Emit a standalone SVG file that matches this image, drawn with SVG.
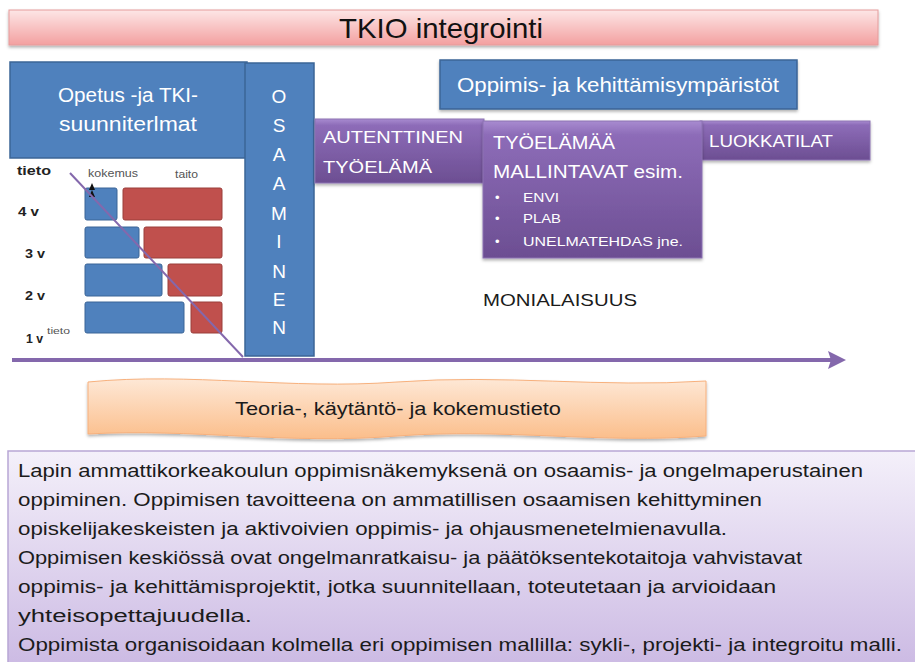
<svg xmlns="http://www.w3.org/2000/svg" width="915" height="662" viewBox="0 0 915 662">
<defs>
  <linearGradient id="gPink" x1="0" y1="0" x2="0" y2="1">
    <stop offset="0" stop-color="#FDE6E6"/>
    <stop offset="1" stop-color="#F3A0A0"/>
  </linearGradient>
  <linearGradient id="gPurple" x1="0" y1="0" x2="0" y2="1">
    <stop offset="0" stop-color="#A88BD0"/>
    <stop offset="0.1" stop-color="#8D6CB8"/>
    <stop offset="1" stop-color="#6C4E92"/>
  </linearGradient>
  <linearGradient id="gOrange" x1="0" y1="0" x2="0" y2="1">
    <stop offset="0" stop-color="#FEE8D6"/>
    <stop offset="1" stop-color="#FBBE8B"/>
  </linearGradient>
  <linearGradient id="gLav" x1="0" y1="0" x2="0" y2="1">
    <stop offset="0" stop-color="#F4F0FA"/>
    <stop offset="1" stop-color="#CBB9E3"/>
  </linearGradient>
  <filter id="sh" x="-5%" y="-10%" width="110%" height="140%">
    <feDropShadow dx="0" dy="2" stdDeviation="1.5" flood-color="#000" flood-opacity="0.3"/>
  </filter>
  <marker id="ah" markerUnits="userSpaceOnUse" markerWidth="20" markerHeight="20" refX="12" refY="9" orient="auto">
    <path d="M0,0 L18,9 L0,18 L3,9 Z" fill="#8468AC"/>
  </marker>
</defs>
<style>
  text { font-family: "Liberation Sans", Arial, sans-serif; }
  .blue { fill: #4F81BD; stroke: #3B6597; stroke-width: 1.5; }
  .wt { fill: #ffffff; }
  .pur { fill: url(#gPurple); stroke: #8B72B2; stroke-width: 1; }
  .bb { fill: #4F81BD; stroke: #3B6597; stroke-width: 1; }
  .rb { fill: #C0504D; stroke: #9A3E3B; stroke-width: 1; }
  .lbl { font-weight: bold; font-size: 12px; fill: #222; }
  .sm { font-size: 11px; fill: #555; }
  .body { font-size: 17.5px; fill: #1b1b1b; }
  .col { font-size: 19px; fill: #fff; text-anchor: middle; }
</style>

<g id="title">
  <rect x="9" y="10" width="869" height="35" fill="url(#gPink)" stroke="#E59C9C" stroke-width="1" filter="url(#sh)"/>
  <text x="441" y="38" font-size="28" fill="#111" text-anchor="middle" textLength="204" lengthAdjust="spacingAndGlyphs">TKIO integrointi</text>
</g>

<g id="chart">
  <text class="lbl" x="17" y="175" textLength="34" lengthAdjust="spacingAndGlyphs">tieto</text>
  <text class="sm" x="88" y="177" textLength="50" lengthAdjust="spacingAndGlyphs">kokemus</text>
  <text class="sm" x="175" y="178" textLength="23" lengthAdjust="spacingAndGlyphs">taito</text>
  <text class="lbl" x="18" y="216" textLength="21" lengthAdjust="spacingAndGlyphs">4 v</text>
  <text class="lbl" x="25" y="258" textLength="20" lengthAdjust="spacingAndGlyphs">3 v</text>
  <text class="lbl" x="25" y="300" textLength="20" lengthAdjust="spacingAndGlyphs">2 v</text>
  <text class="lbl" x="26" y="343" textLength="17" lengthAdjust="spacingAndGlyphs">1 v</text>
  <text x="47" y="334" font-size="9" fill="#555" textLength="23" lengthAdjust="spacingAndGlyphs">tieto</text>
  <rect class="bb" x="85" y="188" width="32" height="32" rx="2"/>
  <rect class="rb" x="123" y="188" width="99" height="32" rx="2"/>
  <rect class="bb" x="85" y="227" width="54" height="31" rx="2"/>
  <rect class="rb" x="144" y="227" width="78" height="31" rx="2"/>
  <rect class="bb" x="85" y="264" width="77" height="32" rx="2"/>
  <rect class="rb" x="168" y="264" width="54" height="32" rx="2"/>
  <rect class="bb" x="85" y="302" width="99" height="31" rx="2"/>
  <rect class="rb" x="191" y="302" width="31" height="31" rx="2"/>
  <path d="M92,183 L89,190 L95,190 Z M92,190 L89,197 L95,197 Z" fill="#111"/>
</g>

<g id="opetus">
  <rect class="blue" x="10" y="62" width="237" height="96"/>
  <text class="wt" x="128" y="102" font-size="20" text-anchor="middle" textLength="140" lengthAdjust="spacingAndGlyphs">Opetus -ja TKI-</text>
  <text class="wt" x="128" y="131" font-size="20" text-anchor="middle" textLength="138" lengthAdjust="spacingAndGlyphs">suunniterlmat</text>
</g>

<g id="osaaminen">
  <rect class="blue" x="245" y="63" width="69" height="293"/>
  <text class="col" x="279" y="103">O</text>
  <text class="col" x="279" y="132">S</text>
  <text class="col" x="279" y="161">A</text>
  <text class="col" x="279" y="190">A</text>
  <text class="col" x="279" y="220">M</text>
  <text class="col" x="279" y="248">I</text>
  <text class="col" x="279" y="278">N</text>
  <text class="col" x="279" y="306">E</text>
  <text class="col" x="279" y="334">N</text>
</g>

<g id="ymparistot">
  <rect class="blue" x="440" y="60" width="357" height="49" filter="url(#sh)"/>
  <text class="wt" x="618" y="92" font-size="20" text-anchor="middle" textLength="322" lengthAdjust="spacingAndGlyphs">Oppimis- ja kehittämisympäristöt</text>
</g>

<g id="autenttinen">
  <rect class="pur" x="315" y="119" width="169" height="64" filter="url(#sh)"/>
  <text class="wt" x="323" y="143" font-size="17" textLength="140" lengthAdjust="spacingAndGlyphs">AUTENTTINEN</text>
  <text class="wt" x="323" y="173" font-size="17" textLength="109" lengthAdjust="spacingAndGlyphs">TYÖELÄMÄ</text>
</g>

<g id="luokkatilat">
  <rect class="pur" x="700" y="121" width="170" height="39" filter="url(#sh)"/>
  <text class="wt" x="709" y="147" font-size="17" textLength="124" lengthAdjust="spacingAndGlyphs">LUOKKATILAT</text>
</g>

<g id="mallintavat">
  <rect class="pur" x="483" y="121" width="219" height="137" filter="url(#sh)"/>
  <text class="wt" x="493" y="149" font-size="18" textLength="122" lengthAdjust="spacingAndGlyphs">TYÖELÄMÄÄ</text>
  <text class="wt" x="493" y="178" font-size="18" textLength="190" lengthAdjust="spacingAndGlyphs">MALLINTAVAT esim.</text>
  <text class="wt" x="495" y="202" font-size="13">•</text>
  <text class="wt" x="523" y="202" font-size="13" textLength="36" lengthAdjust="spacingAndGlyphs">ENVI</text>
  <text class="wt" x="495" y="223" font-size="13">•</text>
  <text class="wt" x="523" y="223" font-size="13" textLength="38" lengthAdjust="spacingAndGlyphs">PLAB</text>
  <text class="wt" x="495" y="246" font-size="13">•</text>
  <text class="wt" x="523" y="246" font-size="13" textLength="160" lengthAdjust="spacingAndGlyphs">UNELMATEHDAS jne.</text>
</g>

<g id="monialaisuus">
  <text x="483" y="306" font-size="17" fill="#1b1b1b" textLength="154" lengthAdjust="spacingAndGlyphs">MONIALAISUUS</text>
</g>

<g id="connectors">
  <line x1="70" y1="173" x2="243" y2="357" stroke="#8468AC" stroke-width="2"/>
  <line x1="12" y1="360" x2="840" y2="360" stroke="#8468AC" stroke-width="4" marker-end="url(#ah)"/>
</g>

<g id="tieto">
  <path d="M88,382 C190,372 290,390 397,382 C505,374 600,388 706,381 L706,436 C600,444 505,428 397,436 C290,445 190,428 88,434 Z" fill="url(#gOrange)" stroke="#F7B07C" stroke-width="1" filter="url(#sh)"/>
  <text x="398" y="415" font-size="18" fill="#1b1b1b" text-anchor="middle" textLength="326" lengthAdjust="spacingAndGlyphs">Teoria-, käytäntö- ja kokemustieto</text>
</g>

<g id="kuvaus">
  <rect x="8" y="451" width="915" height="220" fill="url(#gLav)" stroke="#B8A6D5" stroke-width="1.5"/>
  <text class="body" x="18" y="477" textLength="845" lengthAdjust="spacingAndGlyphs">Lapin ammattikorkeakoulun oppimisnäkemyksenä on osaamis- ja ongelmaperustainen</text>
  <text class="body" x="18" y="506" textLength="744" lengthAdjust="spacingAndGlyphs">oppiminen. Oppimisen tavoitteena on ammatillisen osaamisen kehittyminen</text>
  <text class="body" x="18" y="535" textLength="709" lengthAdjust="spacingAndGlyphs">opiskelijakeskeisten ja aktivoivien oppimis- ja ohjausmenetelmienavulla.</text>
  <text class="body" x="18" y="564" textLength="784" lengthAdjust="spacingAndGlyphs">Oppimisen keskiössä ovat ongelmanratkaisu- ja päätöksentekotaitoja vahvistavat</text>
  <text class="body" x="18" y="593" textLength="758" lengthAdjust="spacingAndGlyphs">oppimis- ja kehittämisprojektit, jotka suunnitellaan, toteutetaan ja arvioidaan</text>
  <text class="body" x="18" y="622" textLength="234" lengthAdjust="spacingAndGlyphs">yhteisopettajuudella.</text>
  <text class="body" x="18" y="651" textLength="884" lengthAdjust="spacingAndGlyphs">Oppimista organisoidaan kolmella eri oppimisen mallilla: sykli-, projekti- ja integroitu malli.</text>
</g>
</svg>
